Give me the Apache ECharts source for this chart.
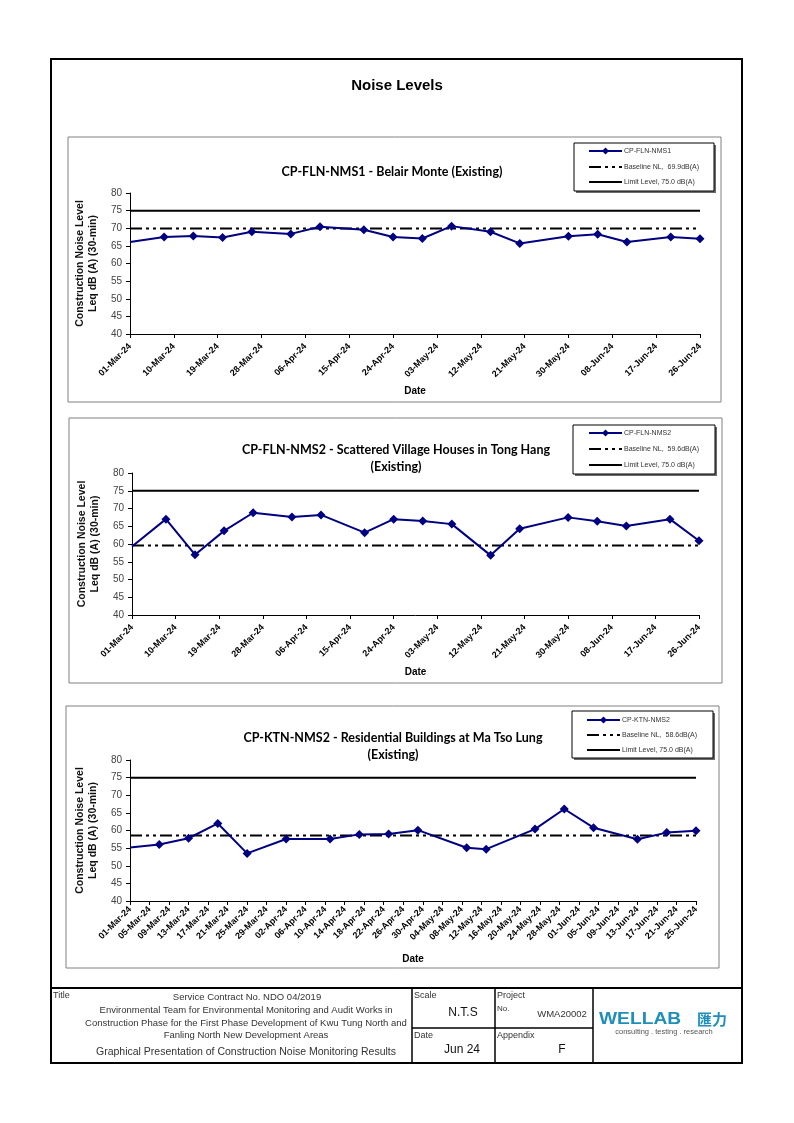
<!DOCTYPE html>
<html>
<head>
<meta charset="utf-8">
<script src="https://cdn.jsdelivr.net/npm/echarts@6/dist/echarts.min.js"></script>
<style>
html,body{margin:0;padding:0;background:#fff;}
#c{width:794px;height:1123px;}
</style>
</head>
<body>
<div id="c"></div>
<script>
// ---------------- DATA ----------------
const START_DATE = '2024-03-01';
const END_FLN = '2024-06-26';
const END_KTN = '2024-06-25';
const TICK_DAYS_FLN = 9;
const TICK_DAYS_KTN = 4;

const datesFLN = ['2024-03-01','2024-03-08','2024-03-14','2024-03-20','2024-03-26','2024-04-03','2024-04-09','2024-04-18','2024-04-24','2024-04-30','2024-05-06','2024-05-14','2024-05-20','2024-05-30','2024-06-05','2024-06-11','2024-06-20','2024-06-26'];
const valuesNMS1 = [66.1, 67.5, 67.8, 67.4, 69.0, 68.4, 70.4, 69.6, 67.5, 67.1, 70.6, 69.0, 65.7, 67.7, 68.3, 66.1, 67.5, 67.0];
const valuesNMS2 = [59.3, 67.0, 57.0, 63.7, 68.8, 67.6, 68.2, 63.2, 67.0, 66.5, 65.6, 56.8, 64.3, 67.5, 66.4, 65.1, 67.0, 60.9];

const datesKTN = ['2024-03-01','2024-03-07','2024-03-13','2024-03-19','2024-03-25','2024-04-02','2024-04-11','2024-04-17','2024-04-23','2024-04-29','2024-05-09','2024-05-13','2024-05-23','2024-05-29','2024-06-04','2024-06-13','2024-06-19','2024-06-25'];
const valuesKTN = [55.2, 56.0, 57.8, 62.0, 53.5, 57.6, 57.6, 58.9, 59.0, 60.1, 55.1, 54.7, 60.4, 66.1, 60.8, 57.5, 59.4, 59.9];

const baselineNMS1 = 69.9;
const baselineNMS2 = 59.6;
const baselineKTN = 58.6;
const limitLevel = 75.0;

const seriesNames = ['CP-FLN-NMS1', 'CP-FLN-NMS2', 'CP-KTN-NMS2'];
const baselineNames = ['Baseline NL,  69.9dB(A)', 'Baseline NL,  59.6dB(A)', 'Baseline NL,  58.6dB(A)'];
const limitName = 'Limit Level, 75.0 dB(A)';
const chartTitles = [
  'CP-FLN-NMS1 - Belair Monte (Existing)',
  'CP-FLN-NMS2 - Scattered Village Houses in Tong Hang\n(Existing)',
  'CP-KTN-NMS2 - Residential Buildings at Ma Tso Lung\n(Existing)'
];
const yMin = 40, yMax = 80, yStep = 5;
const yAxisTitle = 'Construction Noise Level\nLeq dB (A) (30-min)';
const xAxisTitle = 'Date';
const pageTitle = 'Noise Levels';
const MONTHS = ['Jan','Feb','Mar','Apr','May','Jun','Jul','Aug','Sep','Oct','Nov','Dec'];

// ---------------- HELPERS ----------------
const DAY = 86400000;
function parseD(s){ const p = s.split('-').map(Number); return Date.UTC(p[0], p[1]-1, p[2]); }
const START_MS = parseD(START_DATE);
function toDay(s){ return Math.round((parseD(s) - START_MS) / DAY); }
function fmtDay(v){
  const dt = new Date(START_MS + Math.round(v) * DAY);
  const dd = String(dt.getUTCDate()).padStart(2,'0');
  const yy = String(dt.getUTCFullYear()).slice(2);
  return dd + '-' + MONTHS[dt.getUTCMonth()] + '-' + yy;
}
const FA = '"Liberation Sans", Arial, sans-serif';
const FT = 'Lato, "Open Sans", sans-serif';
const NAVY = '#000080';
const DASH_DOT_DOT = [12,4,3,4,3,4];

const charts = [
  { dates: datesFLN, vals: valuesNMS1, base: baselineNMS1, name: seriesNames[0], bname: baselineNames[0], xmax: toDay(END_FLN), step: TICK_DAYS_FLN,
    grid: {left:130, top:193, width:570, height:141}, legendBox:[574,143,140,48], legendRows:[151,167,182], legendX:589,
    frame:[68,137,653,265], titleXY:[392,172], nameGap:52, labelMargin:11 },
  { dates: datesFLN, vals: valuesNMS2, base: baselineNMS2, name: seriesNames[1], bname: baselineNames[1], xmax: toDay(END_FLN), step: TICK_DAYS_FLN,
    grid: {left:132, top:473, width:567, height:142}, legendBox:[573,425,142,49], legendRows:[433,449,465], legendX:589,
    frame:[69,418,653,265], titleXY:[396,458], nameGap:52, labelMargin:11 },
  { dates: datesKTN, vals: valuesKTN, base: baselineKTN, name: seriesNames[2], bname: baselineNames[2], xmax: toDay(END_KTN), step: TICK_DAYS_KTN,
    grid: {left:130, top:760, width:566, height:141}, legendBox:[572,711,141,47], legendRows:[720,735,750], legendX:587,
    frame:[66,706,653,262], titleXY:[393,746], nameGap:53, labelMargin:7 }
];

const grids = [], xAxes = [], yAxes = [], series = [], graphics = [];

function drawLegend(c){
  const [bx, by, bw, bh] = c.legendBox;
  graphics.push({type:'rect', shape:{x:bx+2, y:by+2, width:bw, height:bh}, style:{fill:'#6a6a6a'}, z:20});
  graphics.push({type:'rect', shape:{x:bx, y:by, width:bw, height:bh}, style:{fill:'#fff', stroke:'#000', lineWidth:1}, z:21});
  const lx1 = c.legendX, lx2 = c.legendX + 33, tx = lx2 + 2;
  const names = [c.name, c.bname, limitName];
  const styles = [
    {stroke:NAVY, lineWidth:2},
    {stroke:'#000', lineWidth:2, lineDash:DASH_DOT_DOT},
    {stroke:'#000', lineWidth:2}
  ];
  c.legendRows.forEach((ry, k) => {
    graphics.push({type:'line', shape:{x1:lx1, y1:ry, x2:lx2, y2:ry}, style:styles[k], z:22});
    graphics.push({type:'text', x:tx, y:ry, style:{text:names[k], font:'7px ' + FA, fill:'#333', align:'left', verticalAlign:'middle'}, z:22});
  });
  const mx = (lx1 + lx2) / 2, my = c.legendRows[0], s = 3.5;
  graphics.push({type:'polygon', shape:{points:[[mx, my-s],[mx+s, my],[mx, my+s],[mx-s, my]]}, style:{fill:NAVY}, z:23});
}

charts.forEach((c, i) => {
  grids.push(Object.assign({containLabel:false}, c.grid));
  xAxes.push({
    type:'value', gridIndex:i, min:0, max:c.xmax, interval:c.step,
    axisLine:{show:true, onZero:false, lineStyle:{color:'#000', width:1}},
    axisTick:{show:true, length:4, lineStyle:{color:'#000'}},
    splitLine:{show:false},
    axisLabel:{rotate:45, fontSize:9, fontWeight:'bold', fontFamily:FA, color:'#000', margin:c.labelMargin, formatter:fmtDay, showMinLabel:true, showMaxLabel:true},
    name:xAxisTitle, nameLocation:'middle', nameGap:c.nameGap,
    nameTextStyle:{fontFamily:FA, fontWeight:'bold', fontSize:10, color:'#000'}
  });
  yAxes.push({
    type:'value', gridIndex:i, min:yMin, max:yMax, interval:yStep,
    axisLine:{show:true, lineStyle:{color:'#000', width:1}},
    axisTick:{show:true, length:4, lineStyle:{color:'#000'}},
    splitLine:{show:false},
    axisLabel:{fontSize:10, fontFamily:FA, color:'#444', margin:8},
    name:yAxisTitle, nameLocation:'middle', nameGap:30, nameRotate:90,
    nameTextStyle:{fontFamily:FA, fontWeight:'bold', fontSize:10.5, color:'#111', lineHeight:13}
  });
  series.push({
    type:'line', name:limitName, xAxisIndex:i, yAxisIndex:i,
    data:[[0, limitLevel],[c.xmax, limitLevel]], symbol:'none',
    lineStyle:{color:'#000', width:2, type:'solid'}, itemStyle:{color:'#000'}, z:2, animation:false, silent:true
  });
  series.push({
    type:'line', name:c.bname, xAxisIndex:i, yAxisIndex:i,
    data:[[0, c.base],[c.xmax, c.base]], symbol:'none',
    lineStyle:{color:'#000', width:2, type:DASH_DOT_DOT}, itemStyle:{color:'#000'}, z:3, animation:false, silent:true
  });
  series.push({
    type:'line', name:c.name, xAxisIndex:i, yAxisIndex:i,
    data:c.dates.map((d,k) => [toDay(d), c.vals[k]]),
    symbol:'diamond', showSymbol:true, showAllSymbol:true,
    symbolSize:(v, p) => (p.dataIndex === 0 ? 0 : 9),
    lineStyle:{color:NAVY, width:2}, itemStyle:{color:NAVY}, z:5, animation:false, silent:true
  });
  graphics.push({type:'rect', shape:{x:c.frame[0], y:c.frame[1], width:c.frame[2], height:c.frame[3]},
    style:{fill:'none', stroke:'#808080', lineWidth:1}, z:0});
  graphics.push({type:'text', x:c.titleXY[0], y:c.titleXY[1],
    style:{text:chartTitles[i], font:'bold 12.5px ' + FT, fill:'#000', align:'center', verticalAlign:'middle', lineHeight:17}, z:10});
  drawLegend(c);
});

// page frame + footer
const L = 51, R = 742, T = 59, B = 1063, FY = 988;
graphics.push({type:'rect', shape:{x:L, y:T, width:R-L, height:B-T}, style:{fill:'none', stroke:'#000', lineWidth:2}, z:1});
graphics.push({type:'line', shape:{x1:L, y1:FY, x2:R, y2:FY}, style:{stroke:'#000', lineWidth:2}, z:1});
[412, 495, 593].forEach(x => graphics.push({type:'line', shape:{x1:x, y1:FY, x2:x, y2:B}, style:{stroke:'#000', lineWidth:1.5}, z:1}));
graphics.push({type:'line', shape:{x1:412, y1:1028, x2:593, y2:1028}, style:{stroke:'#000', lineWidth:1.5}, z:1});

function txt(t, x, y, font, opts){
  graphics.push({type:'text', x:x, y:y, style:Object.assign({text:t, font:font, fill:'#333', align:'left', verticalAlign:'middle'}, opts||{}), z:10});
}
txt(pageTitle, 397, 86, 'bold 15px ' + FA, {fill:'#000', align:'center'});
txt('Title', 53, 996, '9px ' + FA);
txt('Service Contract No. NDO 04/2019', 247, 997, '9.5px ' + FA, {align:'center'});
txt('Environmental Team for Environmental Monitoring and Audit Works in', 246, 1010, '9.5px ' + FA, {align:'center'});
txt('Construction Phase for the First Phase Development of Kwu Tung North and', 246, 1023, '9.5px ' + FA, {align:'center'});
txt('Fanling North New Development Areas', 246, 1035, '9.5px ' + FA, {align:'center'});
txt('Graphical Presentation of Construction Noise Monitoring Results', 246, 1052, '10.5px ' + FA, {align:'center'});
txt('Scale', 414, 996, '9px ' + FA);
txt('N.T.S', 463, 1013, '12px ' + FA, {align:'center', fill:'#111'});
txt('Project', 497, 996, '9px ' + FA);
txt('No.', 497, 1009, '8px ' + FA);
txt('WMA20002', 562, 1014, '9.5px ' + FA, {align:'center'});
txt('Date', 414, 1036, '9px ' + FA);
txt('Jun 24', 462, 1050, '12px ' + FA, {align:'center', fill:'#111'});
txt('Appendix', 497, 1036, '9px ' + FA);
txt('F', 562, 1050, '12px ' + FA, {align:'center', fill:'#111'});
graphics.push({type:'text', x:599, y:1019, scaleX:1.28, scaleY:1.1,
  style:{text:'WELLAB', font:'bold 15px ' + FA, fill:'#1f8fba', align:'left', verticalAlign:'middle'}, z:10});
txt('匯力', 697, 1019, 'bold 15px "Noto Sans CJK TC", "Noto Sans CJK SC", sans-serif', {fill:'#1f8fba'});
txt('consulting . testing . research', 664, 1032, '7.5px ' + FA, {align:'center', fill:'#555'});

const chart = echarts.init(document.getElementById('c'), null, {renderer:'canvas'});
chart.setOption({
  animation:false,
  backgroundColor:'#fff',
  grid:grids, xAxis:xAxes, yAxis:yAxes, series:series, graphic:graphics
});
</script>
</body>
</html>
